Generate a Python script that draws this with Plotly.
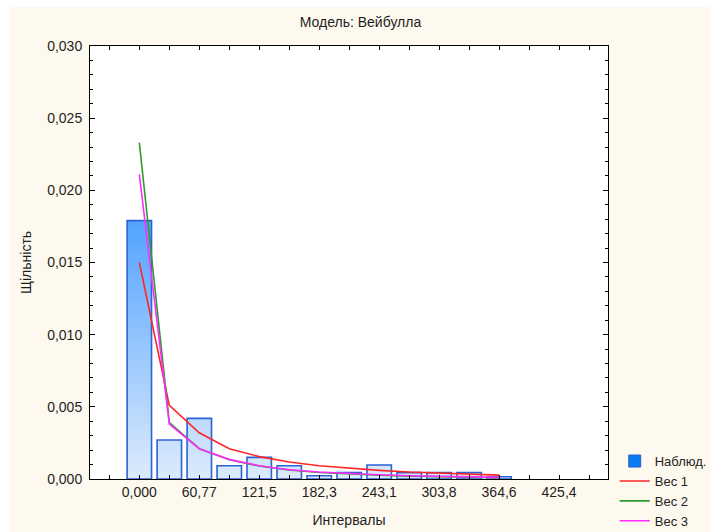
import plotly.graph_objects as go

# ---- data ----
bin_centers = [0.0, 30.39, 60.77, 91.16, 121.5, 151.9, 182.3, 212.7, 243.1, 273.5, 303.8, 334.2, 364.6]
observed = [0.0179, 0.0027, 0.0042, 0.00092, 0.0015, 0.00092, 0.00023, 0.00044, 0.00097, 0.00044, 0.00044, 0.00044, 0.00016]
ves1 = [0.0150, 0.0051, 0.0032, 0.0021, 0.00155, 0.00118, 0.00092, 0.00074, 0.00060, 0.00048, 0.00040, 0.00033, 0.00027]
ves2 = [0.0233, 0.0039, 0.0021, 0.00133, 0.00090, 0.00062, 0.00045, 0.00034, 0.00026, 0.00020, 0.00015, 0.00012, 0.00009]
ves3 = [0.0211, 0.0038, 0.0021, 0.00136, 0.00092, 0.00064, 0.00048, 0.00037, 0.00029, 0.00023, 0.00018, 0.00014, 0.00011]
x_tickvals = [0.0, 60.77, 121.5, 182.3, 243.1, 303.8, 364.6, 425.4]
x_ticktext = ["0,000", "60,77", "121,5", "182,3", "243,1", "303,8", "364,6", "425,4"]

bin_step = 30.39
bar_ratio = 0.815

FONT = "Liberation Sans, Arial, sans-serif"
TXT = "#1e1e1e"

# build bar outlines (polygons) from data
half = bin_step * bar_ratio / 2
bx, by = [], []
for c, v in zip(bin_centers, observed):
    bx += [c - half, c - half, c + half, c + half, c - half, None]
    by += [0, v, v, 0, 0, None]

fig = go.Figure()

# legend entry for observed
fig.add_trace(go.Bar(x=[None], y=[None], name="Наблюд.",
                     marker=dict(color="#0B7BF4", line=dict(color="#2A5FC8", width=1))))

fig.add_trace(go.Scatter(
    x=bx, y=by, mode="lines", fill="toself", showlegend=False, name="Наблюд.",
    line=dict(color="#2B62D4", width=1.6),
    fillgradient=dict(type="vertical", start=0, stop=max(observed),
                      colorscale=[[0, "#DDEBFC"], [1, "#52A3FF"]]),
    hoverinfo="skip"))

for name, vals, col in [("Вес 1", ves1, "#FF2626"), ("Вес 2", ves2, "#2F9A2F"), ("Вес 3", ves3, "#FF2BFF")]:
    fig.add_trace(go.Scatter(x=bin_centers, y=vals, mode="lines", name=name,
                             line=dict(color=col, width=1.6)))

fig.update_layout(
    width=711, height=532,
    margin=dict(l=90, r=103, t=46, b=53, autoexpand=False),
    paper_bgcolor="#FEF9EE", plot_bgcolor="white",
    separators=", ",
    font=dict(family=FONT, size=14, color=TXT),
    title=dict(text="Модель: Вейбулла", x=0.507, xanchor="center", y=0.958, yanchor="middle",
               font=dict(size=14, family=FONT, color=TXT)),
    showlegend=True,
    legend=dict(x=1.013, y=0.076, xanchor="left", yanchor="top", bgcolor="rgba(0,0,0,0)",
                font=dict(size=13, family=FONT, color=TXT), itemwidth=30, tracegroupgap=0),
    shapes=[
        dict(type="rect", xref="paper", yref="paper", x0=-0.2, x1=(10 - 90) / 518, y0=-0.2, y1=1.2,
             fillcolor="white", line=dict(width=0), layer="above"),
        dict(type="rect", xref="paper", yref="paper", x0=-0.2, x1=1.3, y0=(479 - 7) / 433, y1=1.2,
             fillcolor="white", line=dict(width=0), layer="above"),
    ],
)

fig.update_xaxes(
    range=[-50, 475], showgrid=False, zeroline=False,
    showline=True, linecolor="black", linewidth=1, mirror="ticks",
    ticks="inside", ticklen=4, tickcolor="black",
    tickmode="array", tickvals=x_tickvals, ticktext=x_ticktext,
    minor=dict(tickmode="linear", tick0=0, dtick=bin_step, ticks="inside", ticklen=4, tickcolor="black"),
    title=dict(text="Интервалы", standoff=16, font=dict(size=14, family=FONT, color=TXT)),
    tickfont=dict(size=14, family=FONT, color=TXT),
)
fig.update_yaxes(
    range=[0, 0.030], showgrid=False, zeroline=False,
    showline=True, linecolor="black", linewidth=1, mirror="ticks",
    ticks="inside", ticklen=5, tickcolor="black",
    dtick=0.005, tick0=0, tickformat=".3f", ticklabelstandoff=4,
    minor=dict(dtick=0.001, ticks="inside", ticklen=3, tickcolor="black"),
    title=dict(text="Щільність", standoff=12, font=dict(size=14, family=FONT, color=TXT)),
    tickfont=dict(size=14, family=FONT, color=TXT),
)

fig.write_html("out.html")
